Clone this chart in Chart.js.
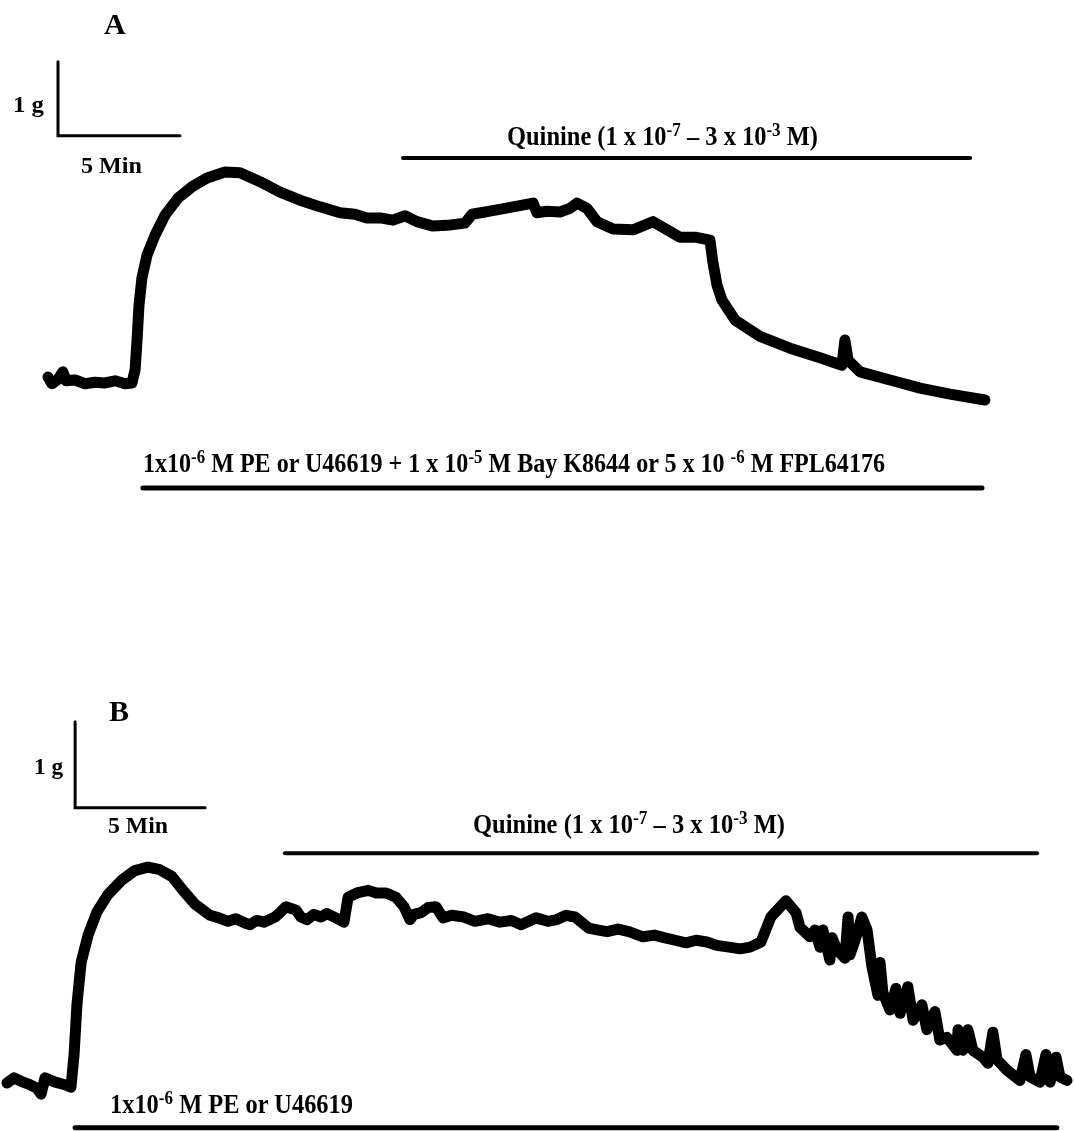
<!DOCTYPE html>
<html>
<head>
<meta charset="utf-8">
<script src="https://cdn.jsdelivr.net/npm/chart.js@4"></script>
<style>
  html,body{margin:0;padding:0;background:#fff;}
  body{width:1074px;height:1131px;position:relative;overflow:hidden;}
  canvas{position:absolute;left:0;}
  .lbl{position:absolute;font-weight:bold;font-family:"Liberation Serif","Times New Roman",serif;line-height:1;white-space:nowrap;transform-origin:0 0;color:#000;}
  .sup{font-size:0.7em;position:relative;top:-0.5em;}
</style>
</head>
<body>
<canvas id="cA" width="1074" height="560" style="top:0"></canvas>
<canvas id="cB" width="1074" height="571" style="top:560px"></canvas>
<script>
// ---- Panel A: time (min) and tension (g) ----
const tA = [0,0.16,0.41,0.61,0.74,1.11,1.52,1.93,2.34,2.75,3.16,3.44,
  3.57,3.65,3.73,3.85,4.06,4.39,4.80,5.33,5.90,6.52,7.25,7.87,8.69,9.51,10.33,11.15,11.97,
  12.58,13.07,13.61,14.14,14.63,15.12,15.78,16.35,17.09,17.38,18.40,19.88,20.04,20.45,20.98,
  21.39,21.68,22.09,22.50,23.16,23.98,24.80,25.37,25.90,26.52,27.13,27.25,27.42,27.62,28.16,
  29.18,30.41,31.64,32.54,32.66,32.79,33.28,34.51,35.74,36.97,38.40];
const gA = [0.04,-0.05,0.01,0.11,-0.01,0.00,-0.05,-0.03,-0.04,-0.01,-0.05,-0.04,
  0.14,0.54,1.01,1.38,1.69,1.96,2.23,2.46,2.61,2.73,2.81,2.80,2.68,2.54,2.43,2.34,2.26,
  2.24,2.19,2.19,2.16,2.22,2.14,2.08,2.09,2.12,2.24,2.30,2.39,2.26,2.28,2.27,
  2.32,2.39,2.32,2.14,2.04,2.03,2.14,2.03,1.93,1.93,1.89,1.59,1.28,1.08,0.81,
  0.59,0.43,0.30,0.20,0.54,0.27,0.11,0.00,-0.11,-0.19,-0.27];
const quinineA = [14.55, 37.79];   // application period, min
const agonistA = [3.89, 38.28];

// ---- Panel B ----
const tB = [0,0.27,0.54,0.88,1.15,1.31,1.40,1.46,1.85,2.23,2.46,2.58,2.69,2.85,3.12,3.46,3.88,4.42,4.92,5.42,
  5.88,6.35,6.77,7.23,7.81,8.15,8.50,8.80,9.15,9.35,9.60,9.88,10.31,10.50,10.73,11.12,11.30,11.54,11.80,
  12.08,12.30,12.65,12.96,13.12,13.46,13.90,14.20,14.58,14.96,15.27,15.50,15.65,15.92,16.20,16.50,16.77,
  17.10,17.58,18.00,18.50,18.96,19.40,19.77,20.35,20.80,21.15,21.50,21.85,22.38,22.70,23.08,23.50,23.92,
  24.46,24.90,25.27,25.70,26.12,26.50,26.92,27.30,27.77,28.20,28.58,29.00,29.38,29.96,30.35,
  30.50,30.88,31.08,31.27,31.38,31.65,31.73,31.92,32.23,32.35,32.42,32.62,32.88,33.08,33.27,33.50,
  33.58,33.69,33.96,34.19,34.35,34.65,34.85,35.19,35.38,35.69,35.88,36.15,36.54,36.58,36.77,36.96,
  37.15,37.54,37.73,37.92,38.08,38.46,38.96,39.19,39.35,39.73,39.96,40.12,40.35,40.50,40.77];
const gB = [0,0.06,0.02,-0.02,-0.06,-0.13,-0.02,0.06,0.01,-0.02,-0.05,0.33,0.91,1.40,1.72,1.99,2.19,2.36,2.47,2.51,
  2.48,2.40,2.24,2.08,1.95,1.92,1.88,1.91,1.86,1.84,1.89,1.87,1.93,1.98,2.05,2.01,1.93,1.90,1.96,
  1.93,1.97,1.92,1.87,2.16,2.21,2.24,2.21,2.21,2.16,2.05,1.90,1.96,1.98,2.04,2.05,1.92,
  1.95,1.93,1.88,1.91,1.87,1.89,1.84,1.92,1.88,1.90,1.95,1.93,1.80,1.78,1.76,1.79,1.76,
  1.70,1.72,1.69,1.66,1.63,1.66,1.64,1.60,1.58,1.56,1.58,1.64,1.93,2.12,1.98,
  1.81,1.70,1.78,1.58,1.78,1.43,1.69,1.55,1.45,1.93,1.49,1.66,1.93,1.78,1.35,1.02,
  1.40,1.05,0.85,1.10,0.81,1.12,0.73,0.91,0.62,0.83,0.50,0.53,0.38,0.62,0.38,0.62,
  0.38,0.30,0.23,0.59,0.27,0.15,0.03,0.33,0.07,0.01,0.33,0.01,0.30,0.07,0.03];
const quinineB = [10.69, 39.62];
const agonistB = [2.62, 40.38];

const SCALE_MIN = 5, SCALE_G = 1;   // calibration bars

function pts(t, g){ return t.map((v,i)=>({x:v, y:g[i]})); }
function seg(x0, x1, y){ return [{x:x0,y:y},{x:x1,y:y}]; }

function makeChart(id, t, g, traceW, xr, yr, bar, quin, quinY, ag, agY){
  const ds = [
    {data: pts(t,g), borderColor:'#000', borderWidth:traceW, pointRadius:0, tension:0, borderJoinStyle:'round', borderCapStyle:'round'},
    {data: [{x:bar.x,y:bar.y+SCALE_G},{x:bar.x,y:bar.y},{x:bar.x+SCALE_MIN,y:bar.y}], borderColor:'#000', borderWidth:3, pointRadius:0, tension:0, borderCapStyle:'round'},
    {data: seg(quin[0], quin[1], quinY), borderColor:'#000', borderWidth:4, pointRadius:0, borderCapStyle:'round'},
    {data: seg(ag[0], ag[1], agY), borderColor:'#000', borderWidth:5, pointRadius:0, borderCapStyle:'round'}
  ];
  return new Chart(document.getElementById(id), {
    type:'line',
    data:{datasets:ds},
    options:{
      animation:false, responsive:false, events:[],
      layout:{padding:0},
      plugins:{legend:{display:false}, tooltip:{enabled:false}},
      elements:{line:{fill:false}},
      scales:{
        x:{type:'linear', display:false, min:xr[0], max:xr[1]},
        y:{type:'linear', display:false, min:yr[0], max:yr[1]}
      }
    }
  });
}

makeChart('cA', tA, gA, 11, [-1.967, 42.05], [-2.432, 5.135], {x:0.41, y:3.30}, quinineA, 3.0, agonistA, -1.46);
makeChart('cB', tB, gB, 11, [-0.269, 41.04], [-0.558, 6.081], {x:2.62, y:3.20}, quinineB, 2.67, agonistB, -0.52);

// ---- text labels ----
function label(html, left, capTop, fs, width){
  const d = document.createElement('div');
  d.className = 'lbl';
  d.innerHTML = html;
  d.style.left = left + 'px';
  d.style.top = (capTop - 0.176*fs) + 'px';
  d.style.fontSize = fs + 'px';
  document.body.appendChild(d);
  if (width){
    const w = d.getBoundingClientRect().width;
    d.style.transform = 'scaleX(' + (width/w) + ')';
  }
}
const quinTxt = 'Quinine (1 x 10<span class="sup">-7</span> \u2013 3 x 10<span class="sup">-3</span> M)';
label('A', 104, 14, 30);
label('1 g', 13, 97, 23, 31);
label('5 Min', 81, 158, 23, 61);
label(quinTxt, 507, 128, 27, 311);
label('1x10<span class="sup">-6</span> M PE or U46619 + 1 x 10<span class="sup">-5</span> M Bay K8644 or 5 x 10 <span class="sup">-6</span> M FPL64176', 143, 455, 27, 742);
label('B', 109, 701, 30);
label('1 g', 34, 759, 23, 29);
label('5 Min', 108, 818, 23, 60);
label(quinTxt, 473, 816, 27, 312);
label('1x10<span class="sup">-6</span> M PE or U46619', 110, 1096, 27, 243);
</script>
</body>
</html>
